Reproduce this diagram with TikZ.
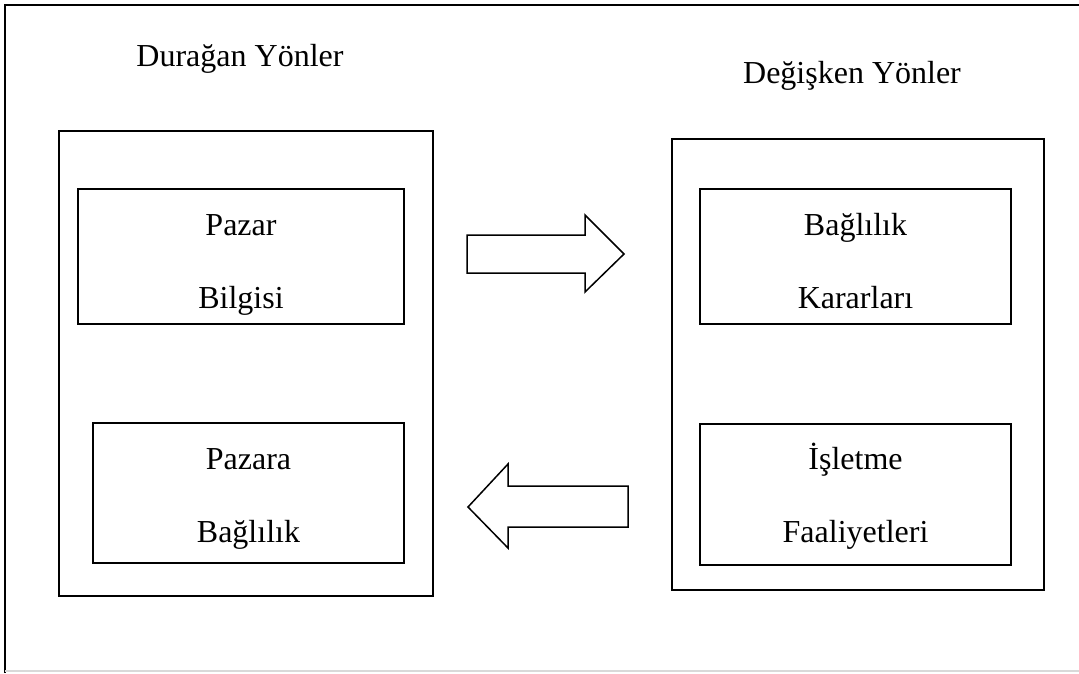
\documentclass[tikz,border=0pt]{standalone}
\usepackage{fontspec}
\setmainfont{Liberation Serif}
\usepackage{tikz}

\tikzset{
  kutu/.style={draw, line width=1.5pt, inner sep=0pt},
  yazi/.style={anchor=base, inner sep=0pt, font=\fontsize{32}{38}\selectfont},
  okblok/.style={draw, line width=1.5pt, line join=miter}
}

\begin{document}
\begin{tikzpicture}[x=1pt, y=-1pt]
            \useasboundingbox (0,0) rectangle (1079,673);
            % frame
            \draw[line width=2pt] (5,673) -- (5,5) -- (1079,5);
            \draw[black!15, line width=1.5pt] (5,671) -- (1079,671);

            % headings
            \node[yazi] (duragan) at (240,66) {Durağan Yönler};
            \node[yazi] (degisken) at (852,83) {Değişken Yönler};

            % outer boxes
            \node[kutu, minimum width=374pt, minimum height=465pt] (sol) at (246,363.5) {};
            \node[kutu, minimum width=372pt, minimum height=451pt] (sag) at (858,364.5) {};

            % inner boxes
            \node[kutu, minimum width=326pt, minimum height=135pt] (bilgi) at (241,256.5) {};
            \node[kutu, minimum width=311pt, minimum height=140pt] (baglilik) at (248.5,493) {};
            \node[kutu, minimum width=311pt, minimum height=135pt] (karar) at (855.5,256.5) {};
            \node[kutu, minimum width=311pt, minimum height=141pt] (faaliyet) at (855.5,494.5) {};

            \node[yazi] (pazar) at (241,235) {Pazar};
            \node[yazi] (bilgisi) at (241,308) {Bilgisi};
            \node[yazi] (pazara) at (248.5,469) {Pazara};
            \node[yazi] (bagl) at (248.5,542) {Bağlılık};
            \node[yazi] (bagr) at (855.5,235) {Bağlılık};
            \node[yazi] (kararlari) at (855.5,308) {Kararları};
            \node[yazi] (isletme) at (855.5,469) {İşletme};
            \node[yazi] (faal) at (855.5,542) {Faaliyetleri};

            % block arrows
            \draw[okblok] (467,235) -- (585,235) -- (585,215) -- (624,254)
                -- (585,292) -- (585,273) -- (467,273) -- cycle;
            \draw[okblok] (628,486) -- (508,486) -- (508,464) -- (468,507)
                -- (508,548) -- (508,527) -- (628,527) -- cycle;
        \end{tikzpicture}
\end{document}
